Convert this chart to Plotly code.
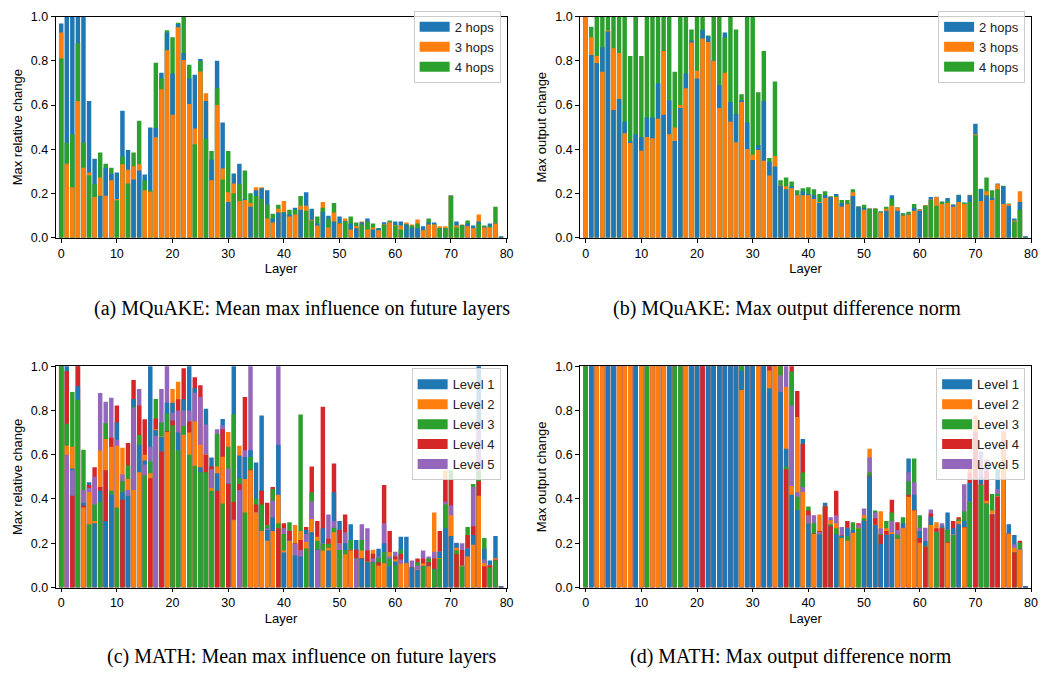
import plotly.graph_objects as go
import numpy as np

layers = list(range(80))

# ---------------- (a) MQuAKE: Mean max influence on future layers ----------------
a_hop2 = [0.968, 1.05, 1.05, 1.05, 1.05, 0.618, 0.357, 0.19, 0.317, 0.29,
          0.295, 0.574, 0.397, 0.264, 0.304, 0.286, 0.499, 0.496, 0.746, 0.928,
          0.742, 0.966, 0.835, 0.72, 0.737, 0.808, 0.618, 0.353, 0.8, 0.521,
          0.162, 0.291, 0.335, 0.175, 0.14, 0.215, 0.224, 0.215, 0.087, 0.114,
          0.114, 0.105, 0.136, 0.127, 0.206, 0.131, 0.065, 0.118, 0.1, 0.074,
          0.096, 0.076, 0.065, 0.043, 0.07, 0.087, 0.038, 0.043, 0.07, 0.072,
          0.074, 0.074, 0.06, 0.047, 0.043, 0.052, 0.069, 0.069, 0.045, 0.045,
          0.193, 0.074, 0.058, 0.065, 0.056, 0.074, 0.05, 0.065, 0.067, 0.005]
a_hop3 = [0.928, 0.335, 0.229, 0.618, 0.317, 0.295, 0.184, 0.273, 0.19, 0.26,
          0.176, 0.332, 0.308, 0.323, 0.333, 0.215, 0.208, 0.454, 0.671, 0.848,
          0.556, 0.951, 0.804, 0.605, 0.494, 0.751, 0.653, 0.26, 0.6, 0.313,
          0.206, 0.246, 0.167, 0.171, 0.158, 0.229, 0.229, 0.087, 0.069, 0.131,
          0.167, 0.096, 0.105, 0.145, 0.145, 0.082, 0.056, 0.162, 0.047, 0.114,
          0.065, 0.087, 0.038, 0.053, 0.074, 0.038, 0.047, 0.034, 0.062, 0.07,
          0.058, 0.056, 0.069, 0.06, 0.083, 0.034, 0.06, 0.06, 0.052, 0.052,
          0.19, 0.056, 0.06, 0.052, 0.043, 0.105, 0.047, 0.047, 0.065, 0.006]
a_hop4 = [0.81, 0.43, 0.468, 0.879, 0.43, 0.283, 0.243, 0.386, 0.335, 0.317,
          0.17, 0.367, 0.246, 0.386, 0.529, 0.259, 0.215, 0.791, 0.721, 0.938,
          0.906, 0.972, 1.05, 0.782, 0.423, 0.799, 0.448, 0.392, 0.676, 0.264,
          0.392, 0.202, 0.243, 0.304, 0.202, 0.189, 0.176, 0.149, 0.109, 0.149,
          0.116, 0.127, 0.127, 0.189, 0.122, 0.078, 0.096, 0.136, 0.087, 0.158,
          0.067, 0.074, 0.096, 0.069, 0.06, 0.074, 0.065, 0.045, 0.06, 0.078,
          0.056, 0.038, 0.062, 0.056, 0.065, 0.036, 0.087, 0.062, 0.043, 0.043,
          0.189, 0.047, 0.056, 0.078, 0.045, 0.065, 0.056, 0.052, 0.14, 0.006]

# ---------------- (b) MQuAKE: Max output difference norm ----------------
b_hop2 = [1.2, 0.826, 0.79, 0.861, 0.932, 0.578, 0.627, 0.525, 0.437, 0.468,
          0.455, 0.544, 0.544, 0.698, 0.556, 0.622, 0.437, 0.587, 0.742, 0.892,
          0.72, 0.94, 0.912, 0.802, 0.689, 0.928, 0.614, 0.56, 0.622, 0.521,
          0.352, 0.419, 0.618, 0.344, 0.322, 0.237, 0.22, 0.233, 0.195, 0.211,
          0.198, 0.193, 0.158, 0.193, 0.184, 0.198, 0.158, 0.155, 0.189, 0.14,
          0.136, 0.133, 0.133, 0.118, 0.122, 0.193, 0.122, 0.111, 0.109, 0.136,
          0.122, 0.147, 0.184, 0.186, 0.164, 0.18, 0.149, 0.193, 0.16, 0.193,
          0.516, 0.22, 0.193, 0.18, 0.246, 0.233, 0.145, 0.087, 0.162, 0.005]
b_hop3 = [1.05, 0.906, 0.822, 0.75, 0.937, 0.857, 0.835, 0.472, 0.428, 1.15,
          0.393, 0.456, 0.45, 0.538, 0.844, 0.468, 0.499, 0.6, 0.676, 0.883,
          0.755, 0.901, 0.885, 0.8, 0.587, 0.746, 0.525, 0.432, 0.614, 0.401,
          0.375, 0.397, 0.348, 0.282, 0.37, 0.239, 0.233, 0.224, 0.193, 0.193,
          0.193, 0.176, 0.162, 0.18, 0.186, 0.184, 0.14, 0.153, 0.206, 0.142,
          0.127, 0.133, 0.133, 0.114, 0.131, 0.145, 0.136, 0.1, 0.105, 0.122,
          0.127, 0.147, 0.173, 0.184, 0.153, 0.158, 0.14, 0.162, 0.153, 0.195,
          0.468, 0.167, 0.211, 0.171, 0.242, 0.153, 0.153, 0.078, 0.211, 0.006]
b_hop4 = [1.3, 0.954, 1.1, 1.1, 1.1, 1.1, 1.1, 1.1, 0.822, 1.1,
          0.822, 1.1, 1.1, 1.1, 1.1, 1.1, 0.75, 1.1, 1.1, 0.941,
          1.1, 1.1, 0.914, 1.1, 1.1, 0.905, 1.1, 0.941, 0.649, 1.1,
          1.1, 0.658, 0.844, 0.361, 0.706, 0.26, 0.273, 0.255, 0.215, 0.224,
          0.229, 0.22, 0.198, 0.211, 0.188, 0.189, 0.171, 0.171, 0.22, 0.142,
          0.149, 0.131, 0.131, 0.12, 0.14, 0.176, 0.138, 0.109, 0.118, 0.153,
          0.129, 0.145, 0.171, 0.145, 0.162, 0.167, 0.151, 0.195, 0.158, 0.162,
          0.463, 0.222, 0.273, 0.215, 0.22, 0.235, 0.155, 0.074, 0.127, 0.006]

# ---------------- (c) MATH: Mean max influence on future layers ----------------
c_lvl1 = [1.2, 1.05, 0.538, 0.91, 0.383, 0.476, 0.29, 0.437, 0.3, 0.419,
          0.746, 0.432, 0.414, 0.852, 0.645, 0.574, 1.05, 0.711, 0.68, 0.835,
          0.835, 0.7, 0.85, 1.05, 0.9, 0.543, 0.808, 0.587, 0.516, 0.761,
          0.47, 1.05, 0.596, 0.59, 0.62, 0.565, 0.777, 0.26, 0.317, 0.645,
          0.158, 0.213, 0.145, 0.14, 0.26, 0.25, 0.172, 0.268, 0.167, 0.43,
          0.3, 0.2, 0.286, 0.215, 0.131, 0.114, 0.116, 0.175, 0.2, 0.096,
          0.118, 0.229, 0.229, 0.09, 0.08, 0.098, 0.098, 0.085, 0.162, 0.268,
          0.233, 0.2, 0.1, 0.175, 0.237, 1.05, 0.175, 0.122, 0.233, 0.005]
c_lvl2 = [1.2, 0.64, 0.636, 1.1, 0.361, 0.432, 0.3, 0.618, 0.671, 0.636,
          0.64, 0.631, 0.49, 0.441, 0.521, 0.6, 0.516, 0.715, 0.682, 0.702,
          0.897, 0.93, 0.69, 0.7, 0.75, 0.645, 0.602, 0.45, 0.547, 0.591,
          0.702, 0.304, 0.64, 0.49, 0.53, 0.339, 0.255, 0.211, 0.255, 0.419,
          0.167, 0.211, 0.282, 0.255, 0.206, 0.31, 0.229, 0.167, 0.18, 0.25,
          0.2, 0.15, 0.167, 0.133, 0.167, 0.116, 0.171, 0.1, 0.11, 0.16,
          0.127, 0.109, 0.11, 0.092, 0.082, 0.109, 0.096, 0.339, 0.133, 0.53,
          0.326, 0.18, 0.1, 0.14, 0.193, 0.414, 0.11, 0.1, 0.131, 0.006]
c_lvl3 = [1.05, 0.74, 0.883, 0.848, 0.622, 0.286, 0.375, 0.388, 0.742, 0.437,
          0.361, 0.481, 0.552, 0.817, 0.689, 0.507, 0.569, 0.852, 0.746, 0.786,
          0.733, 0.62, 0.73, 0.6, 0.55, 0.521, 0.521, 0.437, 0.693, 0.379,
          0.636, 0.782, 0.494, 0.339, 0.59, 0.401, 0.375, 0.282, 0.445, 0.29,
          0.242, 0.295, 0.2, 0.782, 0.176, 0.43, 0.211, 0.198, 0.198, 0.27,
          0.17, 0.17, 0.215, 0.133, 0.215, 0.116, 0.114, 0.135, 0.16, 0.13,
          0.1, 0.171, 0.112, 0.092, 0.114, 0.096, 0.131, 0.083, 0.131, 0.375,
          0.53, 0.167, 0.096, 0.273, 0.468, 0.525, 0.224, 0.09, 0.122, 0.006]
c_lvl4 = [1.2, 0.978, 0.414, 1.05, 0.37, 0.463, 0.543, 0.454, 0.53, 0.677,
          0.822, 0.397, 0.653, 0.937, 0.822, 0.76, 0.494, 0.764, 0.614, 0.706,
          0.755, 0.85, 0.99, 0.75, 0.95, 0.914, 0.6, 0.547, 0.437, 0.715,
          0.468, 0.388, 0.468, 0.861, 0.532, 0.375, 0.437, 0.383, 0.454, 0.268,
          0.29, 0.255, 0.2, 0.215, 0.273, 0.547, 0.3, 0.817, 0.22, 0.56,
          0.26, 0.33, 0.169, 0.171, 0.133, 0.167, 0.153, 0.114, 0.463, 0.255,
          0.14, 0.153, 0.112, 0.092, 0.131, 0.131, 0.114, 0.131, 0.255, 0.488,
          0.49, 0.15, 0.17, 0.237, 0.277, 0.481, 0.096, 0.1, 0.125, 0.006]
c_lvl5 = [1.2, 0.6, 0.53, 1.1, 0.441, 0.45, 0.5, 0.879, 0.839, 0.857,
          0.667, 0.512, 0.441, 0.813, 0.897, 0.556, 0.636, 0.684, 0.897, 1.05,
          0.79, 0.8, 0.8, 0.8, 0.88, 0.861, 0.737, 0.534, 0.715, 0.733,
          0.538, 0.306, 0.441, 0.62, 1.05, 0.341, 0.257, 0.268, 0.392, 1.05,
          0.268, 0.257, 0.198, 0.17, 0.242, 0.39, 0.17, 0.2, 0.33, 0.3,
          0.2, 0.25, 0.171, 0.131, 0.286, 0.268, 0.131, 0.14, 0.29, 0.14,
          0.162, 0.127, 0.112, 0.122, 0.1, 0.167, 0.14, 0.162, 0.164, 0.388,
          0.37, 0.202, 0.2, 0.177, 0.454, 0.74, 0.127, 0.102, 0.133, 0.006]

# ---------------- (d) MATH: Max output difference norm ----------------
d_lvl1 = [1.2, 1.05, 1.2, 1.2, 1.05, 1.05, 1.2, 1.2, 1.2, 1.05,
          1.2, 1.2, 1.2, 1.2, 1.2, 1.05, 1.2, 1.2, 1.2, 1.05,
          1.05, 1.2, 1.05, 1.05, 1.05, 1.05, 1.05, 1.05, 0.98, 1.05,
          1.05, 1.2, 1.05, 0.9, 1.2, 0.883, 0.627, 0.419, 0.35, 0.671,
          0.29, 0.244, 0.237, 0.383, 0.279, 0.242, 0.233, 0.268, 0.26, 0.27,
          0.3, 0.503, 0.282, 0.198, 0.237, 0.242, 0.222, 0.29, 0.583, 0.419,
          0.255, 0.21, 0.32, 0.252, 0.277, 0.339, 0.268, 0.286, 0.3, 0.472,
          0.702, 0.5, 0.38, 0.332, 0.534, 0.704, 0.286, 0.237, 0.173, 0.005]
d_lvl2 = [1.2, 1.2, 1.05, 1.05, 1.2, 1.2, 1.05, 1.05, 1.05, 1.2,
          1.05, 1.2, 1.05, 1.05, 1.05, 1.2, 1.2, 1.2, 1.05, 1.2,
          1.2, 1.2, 1.2, 1.2, 1.2, 1.2, 1.2, 1.2, 0.892, 1.2,
          1.2, 1.05, 1.2, 0.98, 1.05, 1.2, 0.906, 0.459, 0.77, 0.432,
          0.292, 0.242, 0.33, 0.368, 0.304, 0.29, 0.224, 0.211, 0.246, 0.27,
          0.326, 0.627, 0.284, 0.344, 0.268, 0.25, 0.22, 0.268, 0.41, 0.348,
          0.202, 0.186, 0.282, 0.295, 0.27, 0.202, 0.239, 0.3, 0.271, 0.56,
          0.777, 0.465, 0.392, 0.348, 0.412, 0.702, 0.242, 0.18, 0.171, 0.006]
d_lvl3 = [1.05, 1.2, 1.2, 1.2, 1.2, 1.2, 1.2, 1.2, 1.2, 1.2,
          1.2, 1.05, 1.2, 1.2, 1.2, 1.2, 1.05, 1.05, 1.2, 1.2,
          1.2, 1.2, 1.2, 1.2, 1.2, 1.2, 1.2, 1.2, 1.05, 1.2,
          1.2, 1.2, 1.2, 1.2, 1.2, 1.05, 0.547, 0.976, 0.41, 0.52,
          0.366, 0.29, 0.239, 0.368, 0.286, 0.268, 0.226, 0.233, 0.295, 0.268,
          0.313, 0.52, 0.348, 0.242, 0.3, 0.339, 0.238, 0.317, 0.48, 0.583,
          0.326, 0.186, 0.284, 0.25, 0.27, 0.26, 0.237, 0.308, 0.344, 0.388,
          0.702, 0.463, 0.378, 0.423, 0.423, 0.704, 0.244, 0.16, 0.202, 0.006]
d_lvl4 = [1.2, 1.2, 1.2, 1.2, 1.2, 1.2, 1.2, 1.2, 1.2, 1.2,
          1.2, 1.2, 1.2, 1.2, 1.2, 1.2, 1.2, 1.2, 1.2, 1.2,
          1.2, 1.05, 1.2, 1.2, 1.2, 1.2, 1.2, 1.2, 1.2, 1.2,
          1.2, 1.2, 1.2, 1.05, 1.2, 1.2, 0.534, 1.05, 0.888, 0.649,
          0.348, 0.244, 0.255, 0.366, 0.277, 0.437, 0.235, 0.3, 0.248, 0.29,
          0.302, 0.505, 0.313, 0.238, 0.255, 0.397, 0.295, 0.27, 0.419, 0.35,
          0.224, 0.184, 0.334, 0.268, 0.268, 0.204, 0.3, 0.317, 0.273, 0.52,
          0.7, 0.465, 0.525, 0.33, 0.41, 0.704, 0.244, 0.158, 0.211, 0.006]
d_lvl5 = [1.2, 1.2, 1.2, 1.2, 1.2, 1.2, 1.2, 1.2, 1.2, 1.2,
          1.2, 1.2, 1.2, 1.2, 1.2, 1.2, 1.2, 1.2, 1.2, 1.2,
          1.2, 1.2, 1.2, 1.2, 1.2, 1.2, 1.2, 1.2, 1.2, 1.2,
          1.2, 1.2, 1.2, 1.2, 1.2, 0.959, 1.05, 0.822, 0.43, 0.454,
          0.326, 0.326, 0.251, 0.37, 0.317, 0.326, 0.273, 0.27, 0.248, 0.283,
          0.357, 0.587, 0.339, 0.268, 0.239, 0.3, 0.26, 0.27, 0.521, 0.476,
          0.27, 0.27, 0.352, 0.252, 0.29, 0.262, 0.239, 0.288, 0.467, 0.39,
          0.702, 0.614, 0.578, 0.332, 0.445, 0.704, 0.244, 0.195, 0.173, 0.006]

hop_names = ["2 hops", "3 hops", "4 hops"]
level_names = ["Level 1", "Level 2", "Level 3", "Level 4", "Level 5"]
palette = ["#1f77b4", "#ff7f0e", "#2ca02c", "#d62728", "#9467bd"]
x_ticks = [0, 10, 20, 30, 40, 50, 60, 70, 80]
y_ticks = [0.0, 0.2, 0.4, 0.6, 0.8, 1.0]
y_ticktext = ["0.0", "0.2", "0.4", "0.6", "0.8", "1.0"]

FONT = "Liberation Sans, Arial, Helvetica, sans-serif"
SERIF = "Liberation Serif, Times New Roman, serif"
W, H = 1049, 681

panels = [
    dict(series=[a_hop2, a_hop3, a_hop4], names=hop_names, ax="", legend="legend",
         ylabel="Max relative change",
         caption="(a) MQuAKE: Mean max influence on future layers",
         px=(56, 510), py=(9.7, 235.7), cap=(304, 308),
         leg=(504, 4)),
    dict(series=[b_hop2, b_hop3, b_hop4], names=hop_names, ax="2", legend="legend2",
         ylabel="Max output change",
         caption="(b) MQuAKE: Max output difference norm",
         px=(584, 1038), py=(9.7, 235.7), cap=(792, 308),
         leg=(1032, 4)),
    dict(series=[c_lvl1, c_lvl2, c_lvl3, c_lvl4, c_lvl5], names=level_names, ax="3", legend="legend3",
         ylabel="Max relative change",
         caption="(c) MATH: Mean max influence on future layers",
         px=(56, 510), py=(366.7, 592.7), cap=(304, 663),
         leg=(504, 369)),
    dict(series=[d_lvl1, d_lvl2, d_lvl3, d_lvl4, d_lvl5], names=level_names, ax="4", legend="legend4",
         ylabel="Max output change",
         caption="(d) MATH: Max output difference norm",
         px=(584, 1038), py=(366.7, 592.7), cap=(796, 663),
         leg=(1032, 369)),
]

fig = go.Figure()
layout = dict(width=W, height=H, margin=dict(l=0, r=0, t=0, b=0),
              paper_bgcolor="white", plot_bgcolor="white",
              barmode="overlay", showlegend=True, annotations=[])

for p in panels:
    vals = np.array(p["series"], dtype=float)
    k = vals.shape[0]
    assert vals.shape[1] == len(layers)
    # tallest bar of each layer drawn first, shortest last (on top)
    order = np.argsort(-vals, axis=0, kind="stable")
    xa, ya = "x" + p["ax"], "y" + p["ax"]
    cols = np.arange(len(layers))
    for r in range(k):
        idx = order[r]
        fig.add_trace(go.Bar(
            x=layers, y=vals[idx, cols], width=0.8,
            marker=dict(color=[palette[i] for i in idx], line=dict(width=0)),
            xaxis=xa, yaxis=ya, showlegend=False, hoverinfo="skip"))
    for i, nm in enumerate(p["names"]):
        fig.add_trace(go.Scatter(
            x=[None], y=[None], mode="lines", name=nm,
            line=dict(color=palette[i], width=10),
            xaxis=xa, yaxis=ya, legend=p["legend"], showlegend=True))

    axcommon = dict(showline=True, linecolor="black", linewidth=0.8, mirror=True,
                    ticks="outside", ticklen=4, tickwidth=0.8, tickcolor="black",
                    showgrid=False, zeroline=False,
                    tickfont=dict(family=FONT, size=12.5, color="black"))
    xkey = "xaxis" + p["ax"]
    ykey = "yaxis" + p["ax"]
    layout[xkey] = dict(axcommon, domain=[p["px"][0] / W, p["px"][1] / W],
                        anchor=ya, range=[-1, 80], tickvals=x_ticks,
                        title=dict(text="Layer", font=dict(family=FONT, size=13, color="black"), standoff=4))
    layout[ykey] = dict(axcommon, domain=[1 - p["py"][1] / H, 1 - p["py"][0] / H],
                        anchor=xa, range=[0, 1], tickvals=y_ticks, ticktext=y_ticktext,
                        title=dict(text=p["ylabel"], font=dict(family=FONT, size=13, color="black"), standoff=5))
    layout[p["legend"]] = dict(x=p["leg"][0] / W, y=1 - p["leg"][1] / H, xanchor="right", yanchor="top",
                               bgcolor="rgba(255,255,255,0.8)", bordercolor="#cccccc", borderwidth=1,
                               font=dict(family=FONT, size=13, color="#222"),
                               itemwidth=30, tracegroupgap=0, traceorder="normal")
    layout["annotations"].append(dict(
        text=p["caption"], x=p["cap"][0] / W, y=1 - p["cap"][1] / H,
        xref="paper", yref="paper", xanchor="center", yanchor="middle",
        showarrow=False, font=dict(family=SERIF, size=20, color="black")))

fig.update_layout(**layout)
fig.write_html("out.html", config={"displayModeBar": False},
               post_script="document.body.style.margin='0';document.body.style.overflow='hidden';")
